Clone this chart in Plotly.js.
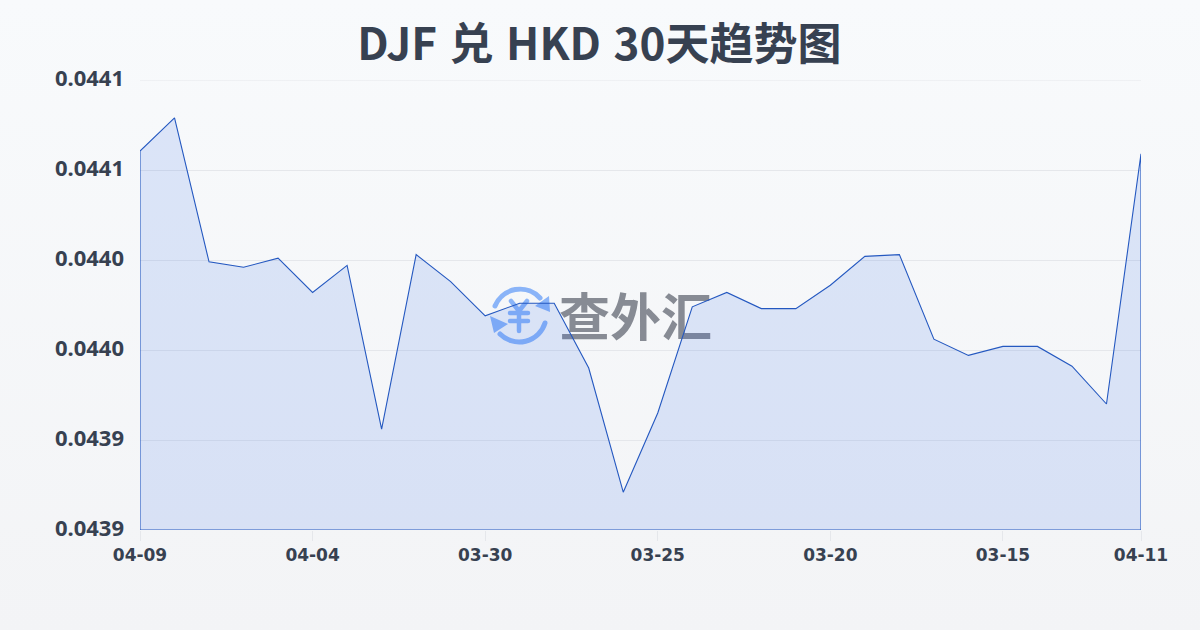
<!DOCTYPE html>
<html><head><meta charset="utf-8">
<script src="https://cdn.plot.ly/plotly-3.0.1.min.js"></script>
<style>
html,body{margin:0;padding:0;width:1200px;height:630px;overflow:hidden;background:linear-gradient(180deg,#f8fafc 0%,#f3f4f6 100%);}
#wm{position:absolute;left:0;top:0;width:1200px;height:630px;}
#wmtext{position:absolute;left:559px;top:278px;font:700 51px "Noto Sans CJK SC";line-height:72px;color:#878b94;white-space:nowrap;}
#chart{position:absolute;left:0;top:0;width:1200px;height:630px;}
.gtitle{word-spacing:2.6px;}
</style></head><body>
<div id="wm">
<svg width="1200" height="630" style="position:absolute;left:0;top:0">
<g fill="none" stroke="#8ab4f8" stroke-width="5" stroke-linecap="round">
<path d="M495 306 A27 27 0 0 1 540 298"/>
<path d="M545 323 A27 27 0 0 1 500 334"/>
</g>
<g fill="none" stroke="#8ab4f8" stroke-width="4.5" stroke-linecap="round" stroke-linejoin="round">
<path d="M511 301 L519 311 L527 301 M510 313 H528 M510 321 H528 M519 311 V331"/>
</g>
<path d="M549 296 L550 312 L535 306 Z M490 316 L508 324 L494 333 Z" fill="#8ab4f8"/>
</svg>
<div id="wmtext">查外汇</div>
</div>
<div id="chart"></div>
<script>
const dates = ["04-09","04-08","04-07","04-06","04-05","04-04","04-03","04-02","04-01","03-31","03-30","03-29","03-28","03-27","03-26","03-25","03-24","03-23","03-22","03-21","03-20","03-19","03-18","03-17","03-16","03-15","03-14","03-13","03-12","04-11"];
const rates = [0.0440605,0.044079,0.043999,0.043996,0.044001,0.043982,0.043997,0.043906,0.044003,0.043988,0.043969,0.043976,0.043976,0.043940,0.043871,0.043915,0.043974,0.043982,0.043973,0.043973,0.043986,0.044002,0.044003,0.043956,0.043947,0.043952,0.043952,0.043941,0.043920,0.044059];
const xTicks = ["04-09","04-04","03-30","03-25","03-20","03-15","04-11"];
const yTicks = [0.04385,0.0439,0.04395,0.044,0.04405,0.0441];
const yLabels = ["0.0439","0.0439","0.0440","0.0440","0.0441","0.0441"];
const yMin = 0.04385, yMax = 0.0441;

const first = dates[0], last = dates[dates.length-1];
Plotly.newPlot("chart",[{
  type:"scatter",mode:"lines",cliponaxis:false,
  x:dates.concat([last,first,first]),
  y:rates.concat([yMin,yMin,rates[0]]),
  fill:"toself",fillcolor:"rgba(37,99,235,0.135)",
  line:{color:"#2458c0",width:1.1},
  hoverinfo:"skip"
}],{
  width:1200,height:630,
  paper_bgcolor:"rgba(0,0,0,0)",plot_bgcolor:"rgba(0,0,0,0)",
  margin:{l:140,r:59,t:80,b:100},
  showlegend:false,
  title:{text:"DJF 兑 HKD 30天趋势图",x:0.4995,xref:"container",xanchor:"center",y:0.93,yanchor:"middle",
    font:{family:'"Noto Sans CJK SC"',size:44,color:"#374151",weight:700}},
  shapes:[{type:"line",xref:"paper",yref:"y",x0:0,x1:1,y0:yMax,y1:yMax,line:{color:"#e5e7eb",width:1},layer:"below"}],
  xaxis:{type:"category",categoryorder:"array",categoryarray:dates,range:[0,dates.length-1],
    tickmode:"array",tickvals:xTicks,ticktext:xTicks,
    ticks:"outside",ticklen:10,tickcolor:"#e5e7eb",tickwidth:1,
    showgrid:false,zeroline:false,showline:false,
    tickfont:{family:'"DejaVu Sans"',size:17,color:"#374151",weight:700}},
  yaxis:{range:[yMin,yMax],tickmode:"array",tickvals:yTicks,ticktext:yLabels,
    ticks:"",showgrid:true,gridcolor:"#e5e7eb",gridwidth:1,zeroline:false,showline:false,
    ticklabelstandoff:15,ticklabelshift:-2,
    tickfont:{family:'"Noto Sans"',size:22,color:"#374151",weight:700}}
},{displayModeBar:false,staticPlot:true});
</script></body></html>
